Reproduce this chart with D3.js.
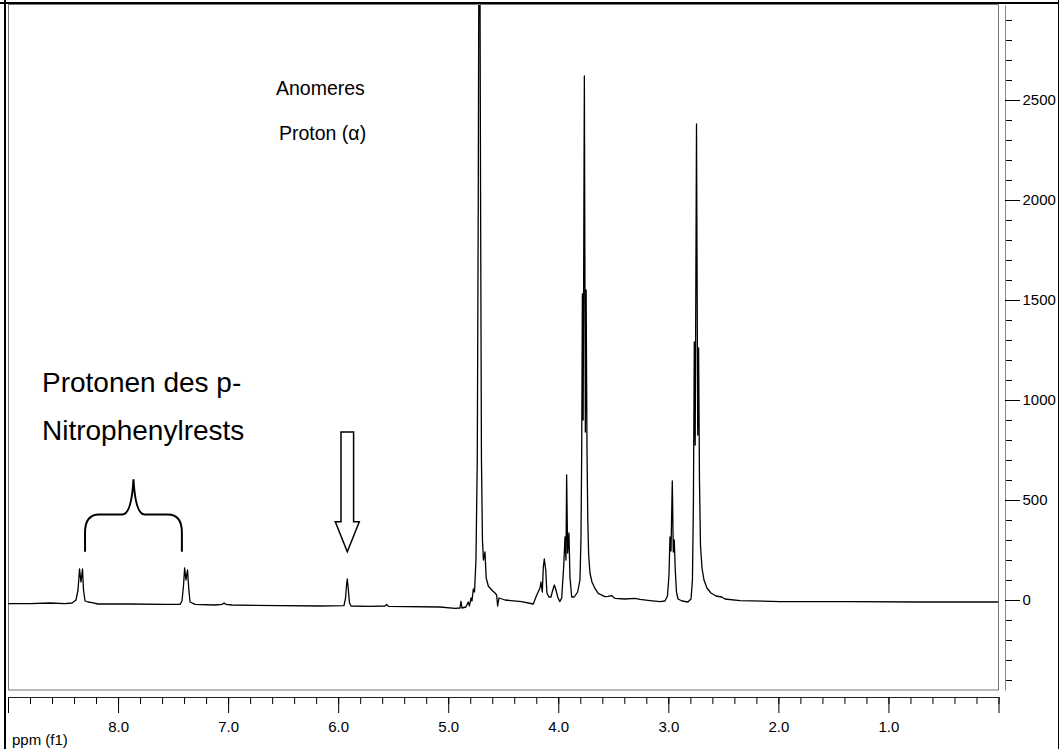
<!DOCTYPE html>
<html><head><meta charset="utf-8">
<script src="https://cdn.jsdelivr.net/npm/d3@7"></script>
<style>
body{margin:0;background:#fff}
svg{display:block}
text{font-family:"Liberation Sans",Arial,Helvetica,sans-serif}
</style>
</head><body>
<svg id="chart" width="1059" height="749"></svg>
<script>
// ---- spectrum data: [ppm, intensity] ----
const nitrophenylRegion = [
  [9.000,-18],[8.800,-18],[8.618,-15],[8.482,-18],[8.418,-15],[8.382,0],[8.364,50],
  [8.350,155],[8.337,90],[8.323,155],[8.314,50],[8.300,-5],[8.273,-10],[8.237,-13],
  [8.182,-20],[7.892,-20],[7.574,-22],[7.437,-22],[7.419,-5],[7.405,75],[7.395,160],
  [7.383,100],[7.369,150],[7.358,60],[7.346,-10],[7.301,-22],[7.119,-25]
];
const anomericRegion = [
  [7.056,-22],[7.037,-15],[7.019,-22],[6.965,-25],[6.529,-28],[6.165,-30],[5.947,-28],
  [5.933,10],[5.924,75],[5.917,105],[5.909,60],[5.897,-15],[5.883,-30],[5.711,-32],
  [5.575,-30],[5.559,-22],[5.543,-32],[5.075,-35],[4.939,-42]
];
const hdoRegion = [
  [4.893,-40],[4.884,-7],[4.875,-40],[4.839,-35],[4.818,-10],[4.807,-30],[4.793,10],
  [4.784,-5],[4.772,55],[4.761,40],[4.748,200],[4.736,700],[4.727,2000],[4.717,4200],
  [4.706,2000],[4.698,700],[4.689,300],[4.680,200],[4.666,240],[4.655,110],[4.636,70],
  [4.605,50],[4.575,35],[4.560,25],[4.551,-30],[4.539,10],[4.484,0],[4.333,-8]
];
const sugarRegion = [
  [4.227,-20],[4.203,15],[4.187,35],[4.166,60],[4.157,90],[4.145,40],[4.136,165],
  [4.127,205],[4.114,150],[4.103,35],[4.085,15],[4.066,15],[4.055,40],[4.036,75],
  [4.021,50],[4.005,15],[3.987,-8],[3.969,10],[3.951,165],[3.939,315],[3.930,200],
  [3.924,625],[3.915,235],[3.903,335],[3.894,115],[3.878,15],[3.855,15],[3.824,40],
  [3.803,100],[3.794,300],[3.787,750],[3.781,1530],[3.774,900],[3.763,2620],
  [3.754,840],[3.747,1550],[3.739,750],[3.732,400],[3.724,225],[3.712,135],
  [3.694,90],[3.667,58],[3.637,33],[3.576,17],[3.548,18],[3.515,22],[3.485,8],
  [3.394,5],[3.303,8],[3.258,3],[3.167,-3],[3.076,-8],[3.031,-5]
];
const upfieldRegion = [
  [3.008,20],[2.994,125],[2.985,315],[2.976,245],[2.964,595],[2.955,240],[2.946,300],
  [2.937,150],[2.926,40],[2.912,5],[2.876,-5],[2.822,-10],[2.794,5],[2.781,100],
  [2.772,500],[2.764,1290],[2.756,775],[2.744,2380],[2.733,825],[2.725,1260],
  [2.717,600],[2.708,275],[2.694,160],[2.676,100],[2.649,60],[2.613,35],[2.567,20],
  [2.515,15],[2.485,5],[2.349,-3],[1.986,-8],[1.350,-8],[0.714,-10],[0.000,-10]
];

// ---- axes ----
const xMajorTicks = [9,8,7,6,5,4,3,2,1,0];
const xTickLabels = {8:"8.0",7:"7.0",6:"6.0",5:"5.0",4:"4.0",3:"3.0",2:"2.0",1:"1.0"};
const xMinorStep = 0.2;
const yMajorTicks = [0,500,1000,1500,2000,2500];
const yMinorStep = 100;
const xDomain = [9.0, 0.0];
const yDomain = [-450, 2975];
const xAxisTitle = "ppm (f1)";

// ---- annotations (data coordinates) ----
const nitroLabel = ["Protonen des p-", "Nitrophenylrests"];
const anomerLabel = ["Anomeres", "Proton (\u03b1)"];
const braceSpan = {left:8.30, right:7.42, mid:7.86};
const arrowPpm = 5.917;

const svg = d3.select("#chart");
const W = 1059, H = 749;
const plot = {left:8, right:998.5, top:5, bottom:690};

const x = d3.scaleLinear().domain(xDomain).range([plot.left, plot.right]);
const y = d3.scaleLinear().domain(yDomain).range([plot.bottom, plot.top]);

// outer border
svg.append("line").attr("x1",5).attr("x2",5).attr("y1",0).attr("y2",H).attr("stroke","#000").attr("stroke-width",2);
svg.append("line").attr("x1",0).attr("x2",W).attr("y1",3).attr("y2",3).attr("stroke","#000").attr("stroke-width",2);
svg.append("line").attr("x1",1058.5).attr("x2",1058.5).attr("y1",0).attr("y2",H).attr("stroke","#000").attr("stroke-width",1);

// plot frame
svg.append("rect").attr("x",8.5).attr("y",4.5).attr("width",990).attr("height",685.5)
  .attr("fill","none").attr("stroke","#777").attr("stroke-width",1);

svg.append("clipPath").attr("id","clip").append("rect")
  .attr("x",plot.left).attr("y",plot.top).attr("width",plot.right-plot.left).attr("height",plot.bottom-plot.top);

// spectrum
const spectrum = [].concat(nitrophenylRegion, anomericRegion, hdoRegion, sugarRegion, upfieldRegion);
const line = d3.line().x(d=>x(d[0])).y(d=>y(d[1]));
svg.append("path").datum(spectrum).attr("clip-path","url(#clip)")
  .attr("d",line).attr("fill","none").attr("stroke","#000").attr("stroke-width",1.3)
  .attr("stroke-linejoin","round");

// x axis
const xMinor = d3.range(0, 9.0001, xMinorStep).map(v=>+v.toFixed(1));
const gxMinor = svg.append("g").attr("transform","translate(0,697)")
  .call(d3.axisBottom(x).tickValues(xMinor).tickSize(7).tickFormat(""));
gxMinor.select(".domain").remove();
const gx = svg.append("g").attr("transform","translate(0,697)")
  .call(d3.axisBottom(x).tickValues(xMajorTicks).tickSize(16).tickSizeOuter(0).tickPadding(8)
    .tickFormat(d=>xTickLabels[d]||""));
gx.select(".domain").attr("stroke","#222");
gx.selectAll("text").attr("font-size",15).attr("fill","#000")
  .attr("font-family","'Liberation Sans',Arial,sans-serif");

svg.append("text").attr("x",12).attr("y",745).attr("font-size",15).attr("fill","#000").text(xAxisTitle);

// y axis on the right
const yMinor = d3.range(-400, 2901, yMinorStep);
const gyMinor = svg.append("g").attr("transform","translate(1005,0)")
  .call(d3.axisRight(y).tickValues(yMinor).tickSize(7).tickFormat(""));
gyMinor.select(".domain").remove();
const gy = svg.append("g").attr("transform","translate(1005,0)")
  .call(d3.axisRight(y).tickValues(yMajorTicks).tickSize(15).tickSizeOuter(0).tickPadding(2.5)
    .tickFormat(d3.format("d")));
gy.select(".domain").attr("stroke","#888");
gy.selectAll("text").attr("font-size",15).attr("fill","#000")
  .attr("font-family","'Liberation Sans',Arial,sans-serif");
svg.selectAll("g .tick line").attr("stroke","#000");

// annotations
const ann = svg.append("g").attr("font-size",19.5).attr("fill","#000");
ann.append("text").attr("x",42).attr("y",392).attr("font-size",28).text(nitroLabel[0]);
ann.append("text").attr("x",42).attr("y",440).attr("font-size",28).text(nitroLabel[1]);
ann.append("text").attr("x",276).attr("y",95).text(anomerLabel[0]);
ann.append("text").attr("x",279).attr("y",140).text(anomerLabel[1]);

// brace
const bl = x(braceSpan.left), br = x(braceSpan.right), bm = x(braceSpan.mid);
const yEnd = y(241), yBar = y(428), yTip = y(603);
const bracePath = `M${bl},${yEnd} L${bl},${yBar+18} Q${bl},${yBar} ${bl+14},${yBar} L${bm-11},${yBar} Q${bm-2},${yBar} ${bm},${yTip} Q${bm+2},${yBar} ${bm+11},${yBar} L${br-14},${yBar} Q${br},${yBar} ${br},${yBar+18} L${br},${yEnd}`;
svg.append("path").attr("d",bracePath).attr("fill","none").attr("stroke","#000").attr("stroke-width",2);

// hollow arrow
const ax = x(arrowPpm);
const aTop = 432, aHeadBase = y(391), aTip = y(241);
const arrowPath = `M${ax-6.3},${aTop} L${ax+6.3},${aTop} L${ax+6.3},${aHeadBase} L${ax+12},${aHeadBase} L${ax},${aTip} L${ax-12},${aHeadBase} L${ax-6.3},${aHeadBase} Z`;
svg.append("path").attr("d",arrowPath).attr("fill","#fff").attr("stroke","#000").attr("stroke-width",1.5);
</script>
</body></html>
